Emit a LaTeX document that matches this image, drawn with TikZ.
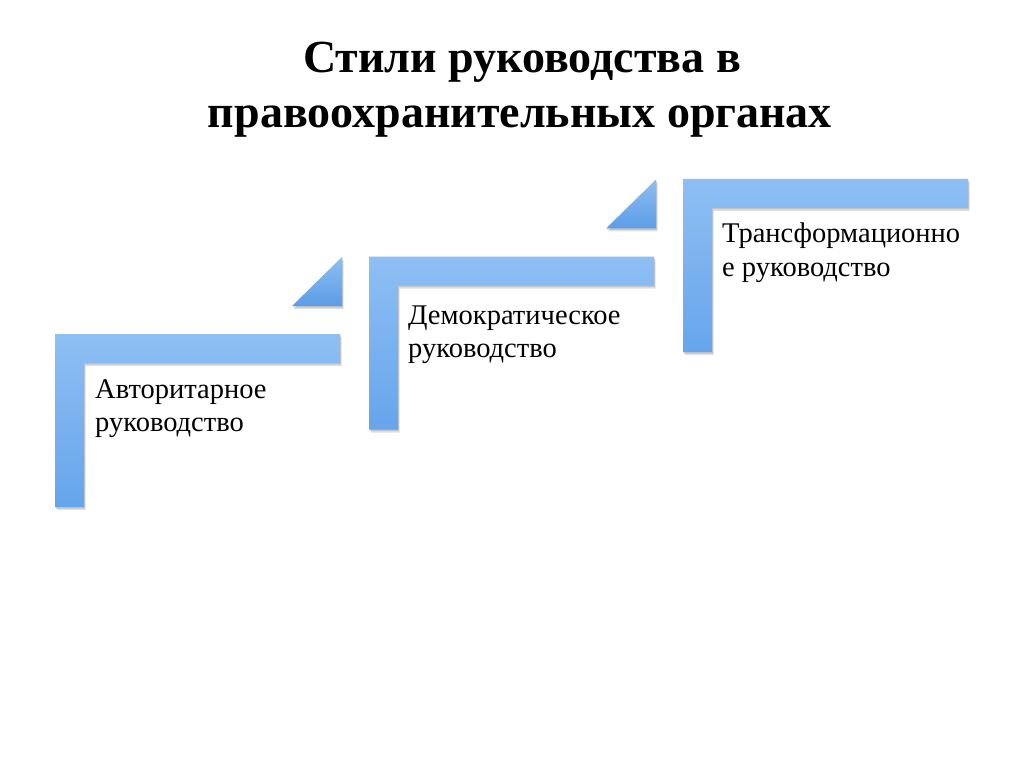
\documentclass[tikz,border=0pt]{standalone}
\usepackage{fontspec}
\setmainfont{Liberation Serif}
\definecolor{barTop}{HTML}{8EBFF3}
\definecolor{barBot}{HTML}{66A5EC}
\definecolor{triTop}{HTML}{8DBEF2}
\definecolor{triBot}{HTML}{5C9DE6}
\tikzset{
  stairbar/.style={top color=barTop, bottom color=barBot, draw=none},
  stairtri/.style={top color=triTop, bottom color=triBot, draw=none},
  softshadow/.style={fill=black, draw=none, opacity=0.12},
  titletext/.style={font=\fontsize{46}{54}\selectfont\bfseries, anchor=base, inner sep=0pt},
  labeltext/.style={font=\fontsize{28.5}{33}\selectfont, anchor=base west, inner sep=0pt}
}
\begin{document}
\begin{tikzpicture}[x=1pt,y=-1pt]
\useasboundingbox[fill=white] (0,0) rectangle (1024,767);
% L shapes
\foreach \i in {0,1,2}{
  \begin{scope}[shift={(314*\i,-77.5*\i)}]
    \foreach \d in {1.5,3}{
      \path[softshadow, shift={(0.5*\d,\d)}] (55,334) -- (340,334) -- (340,363) -- (84,363) -- (84,507) -- (55,507) -- cycle;
    }
    \path[stairbar] (55,334) -- (340,334) -- (340,363) -- (84,363) -- (84,507) -- (55,507) -- cycle;
  \end{scope}
}
% triangles
\foreach \i in {0,1}{
  \begin{scope}[shift={(314*\i,-77.5*\i)}]
    \foreach \d in {1.5,3}{
      \path[softshadow, shift={(0.5*\d,\d)}] (292,306) -- (342,257) -- (342,306) -- cycle;
    }
    \path[stairtri] (292,306) -- (342,257) -- (342,306) -- cycle;
  \end{scope}
}
% title
\node[titletext] (title1) at (522,73) {Стили руководства в};
\node[titletext] (title2) at (520,128) {правоохранительных органах};
% labels
\node[labeltext] (l1a) at (95,398) {Авторитарное};
\node[labeltext] (l1b) at (95,431) {руководство};
\node[labeltext] (l2a) at (408,324) {Демократическое};
\node[labeltext] (l2b) at (408,357) {руководство};
\node[labeltext] (l3a) at (722,243) {Трансформационно};
\node[labeltext] (l3b) at (722,276) {е руководство};
\end{tikzpicture}
\end{document}
